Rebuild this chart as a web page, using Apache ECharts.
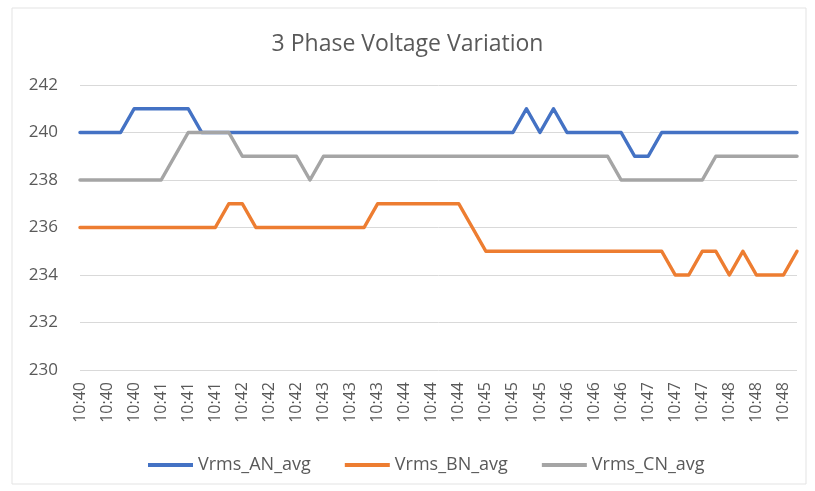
<!DOCTYPE html>
<html>
<head>
<meta charset="utf-8">
<title>3 Phase Voltage Variation</title>
<script src="https://cdn.jsdelivr.net/npm/echarts@6/dist/echarts.min.js"></script>
<style>
  html, body { margin: 0; padding: 0; background: #fff; }
  #chart { width: 815px; height: 491px; }
</style>
</head>
<body>
<div id="chart"></div>
<script>
// ---- Data ----
const times = [
  '10:40', '10:40', '10:40', '10:40', '10:40', '10:40',
  '10:41', '10:41', '10:41', '10:41', '10:41', '10:41',
  '10:42', '10:42', '10:42', '10:42', '10:42', '10:42',
  '10:43', '10:43', '10:43', '10:43', '10:43', '10:43',
  '10:44', '10:44', '10:44', '10:44', '10:44', '10:44',
  '10:45', '10:45', '10:45', '10:45', '10:45', '10:45',
  '10:46', '10:46', '10:46', '10:46', '10:46', '10:46',
  '10:47', '10:47', '10:47', '10:47', '10:47', '10:47',
  '10:48', '10:48', '10:48', '10:48', '10:48', '10:48',
]

const vrmsAN = [
  240, 240, 240, 240, 241, 241, 241, 241, 241, 240,
  240, 240, 240, 240, 240, 240, 240, 240, 240, 240,
  240, 240, 240, 240, 240, 240, 240, 240, 240, 240,
  240, 240, 240, 241, 240, 241, 240, 240, 240, 240,
  240, 239, 239, 240, 240, 240, 240, 240, 240, 240,
  240, 240, 240, 240,
]

const vrmsBN = [
  236, 236, 236, 236, 236, 236, 236, 236, 236, 236,
  236, 237, 237, 236, 236, 236, 236, 236, 236, 236,
  236, 236, 237, 237, 237, 237, 237, 237, 237, 236,
  235, 235, 235, 235, 235, 235, 235, 235, 235, 235,
  235, 235, 235, 235, 234, 234, 235, 235, 234, 235,
  234, 234, 234, 235,
]

const vrmsCN = [
  238, 238, 238, 238, 238, 238, 238, 239, 240, 240,
  240, 240, 239, 239, 239, 239, 239, 238, 239, 239,
  239, 239, 239, 239, 239, 239, 239, 239, 239, 239,
  239, 239, 239, 239, 239, 239, 239, 239, 239, 239,
  238, 238, 238, 238, 238, 238, 238, 239, 239, 239,
  239, 239, 239, 239,
]

const TEXT_COLOR = '#595959'
const GRID_COLOR = '#d9d9d9'
const AN_COLOR = '#4472c4'
const BN_COLOR = '#ed7d31'
const CN_COLOR = '#a5a5a5'
const FONT = '"Open Sans", "Liberation Sans", sans-serif'

function lineSeries(name, data, color) {
  return {
    name,
    type: 'line',
    data,
    showSymbol: false,
    symbol: 'none',
    smooth: false,
    lineStyle: { width: 3.5, color, cap: 'round', join: 'round' },
    itemStyle: { color },
  }
}

const chart = echarts.init(document.getElementById('chart'), null, { renderer: 'canvas' })

chart.setOption({
  backgroundColor: '#fff',
  animation: false,
  textStyle: { fontFamily: FONT },
  graphic: [
    {
      type: 'rect',
      shape: { x: 12, y: 8, width: 794, height: 476 },
      style: { fill: 'none', stroke: '#e3e3e3', lineWidth: 1 },
      silent: true,
    },
  ],
  title: {
    text: '3 Phase Voltage Variation',
    left: 'center',
    top: 28,
    textStyle: { color: TEXT_COLOR, fontSize: 23, fontWeight: 'normal', fontFamily: FONT },
  },
  legend: {
    top: 451,
    left: 143,
    icon: 'rect',
    itemWidth: 45,
    itemHeight: 4,
    itemGap: 34,
    textStyle: { color: TEXT_COLOR, fontSize: 18, fontFamily: FONT },
    data: ['Vrms_AN_avg', 'Vrms_BN_avg', 'Vrms_CN_avg'],
  },
  grid: {
    left: 80,
    right: 18,
    top: 85,
    bottom: 121,
  },
  xAxis: {
    type: 'category',
    data: times,
    boundaryGap: false,
    axisLine: { show: false },
    axisTick: { show: false },
    axisLabel: {
      interval: 1,
      rotate: 90,
      color: TEXT_COLOR,
      fontSize: 16,
      margin: 12,
      fontFamily: FONT,
    },
    splitLine: { show: false },
  },
  yAxis: {
    type: 'value',
    min: 230,
    max: 242,
    interval: 2,
    axisLine: { show: false },
    axisTick: { show: false },
    axisLabel: { color: TEXT_COLOR, fontSize: 17, margin: 22, fontFamily: FONT },
    splitLine: { lineStyle: { color: GRID_COLOR, width: 1 } },
  },
  series: [
    lineSeries('Vrms_AN_avg', vrmsAN, AN_COLOR),
    lineSeries('Vrms_BN_avg', vrmsBN, BN_COLOR),
    lineSeries('Vrms_CN_avg', vrmsCN, CN_COLOR),
  ],
})
</script>
</body>
</html>
